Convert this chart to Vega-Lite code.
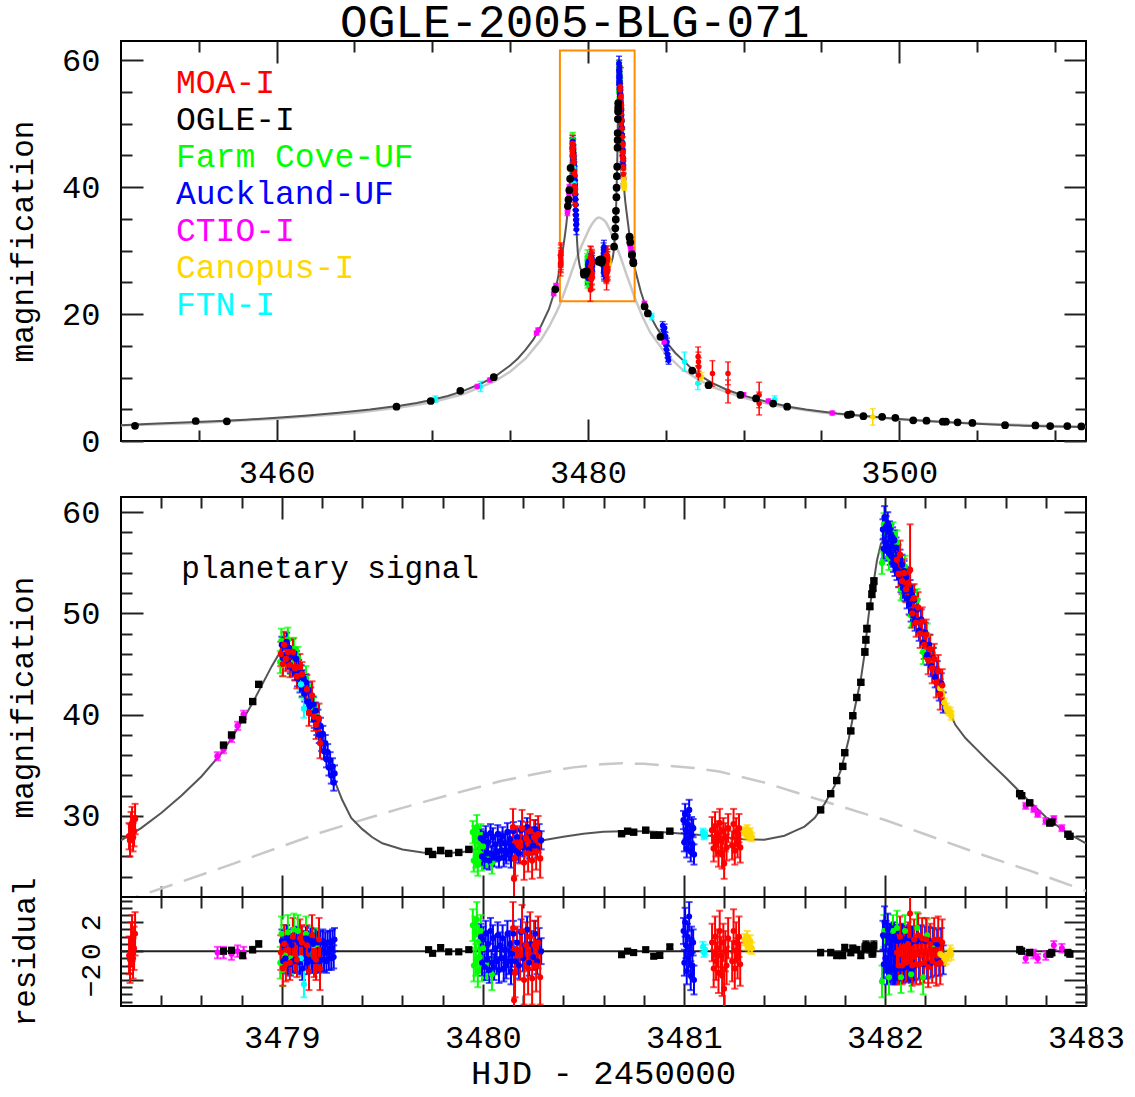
{
 "$schema": "https://vega.github.io/schema/vega-lite/v6.json",
 "padding": {"left": 6, "top": 0, "right": 10, "bottom": 0},
 "title": {"text": "OGLE-2005-BLG-071", "font": "Liberation Mono", "fontSize": 46, "fontWeight": "normal", "color": "black", "anchor": "middle", "dx": 9, "offset": -8},
 "config": {
  "font": "Liberation Mono",
  "view": {"stroke": "black", "strokeWidth": 2},
  "axis": {"domain": false, "grid": false, "labelFont": "Liberation Mono", "labelFontSize": 32, "labelColor": "black", "labelOverlap": false, "labelFlush": false, "labelBound": false, "tickColor": "#222222", "tickWidth": 2, "titleFont": "Liberation Mono", "titleFontSize": 31, "titleFontWeight": "normal", "titleColor": "black"}
 },
 "resolve": {"scale": {"color": "shared"}, "legend": {"color": "shared"}},
 "spacing": 56,
 "bounds": "flush",
 "datasets": {
  "model": [
   {"t":3450,"A":2.5},{"t":3452,"A":2.7},{"t":3454,"A":2.9},{"t":3456,"A":3.1},{"t":3458,"A":3.35},{"t":3460,"A":3.65},{"t":3462,"A":4.0},{"t":3464,"A":4.45},{"t":3466,"A":4.95},{"t":3468,"A":5.6},{"t":3469,"A":6.0},{"t":3470,"A":6.5},{"t":3471,"A":7.1},{"t":3472,"A":7.9},{"t":3473,"A":8.9},{"t":3474,"A":10.1},{"t":3475,"A":11.9},{"t":3475.5,"A":13.0},{"t":3476,"A":14.4},{"t":3476.5,"A":16.0},{"t":3477,"A":18.2},{"t":3477.5,"A":20.8},{"t":3477.9,"A":23.9},{"t":3478.0,"A":24.8},{"t":3478.1,"A":26.0},{"t":3478.2,"A":27.6},{"t":3478.3,"A":28.8},{"t":3478.4,"A":30.3},{"t":3478.5,"A":32.0},{"t":3478.6,"A":33.9},{"t":3478.7,"A":36.2},{"t":3478.76,"A":38.0},{"t":3478.8,"A":39.3},{"t":3478.85,"A":41.0},{"t":3478.9,"A":42.9},{"t":3478.95,"A":44.8},{"t":3478.98,"A":45.8},{"t":3479.0,"A":46.2},{"t":3479.02,"A":46.4},{"t":3479.05,"A":45.4},{"t":3479.1,"A":43.4},{"t":3479.15,"A":40.8},{"t":3479.18,"A":39.1},{"t":3479.22,"A":36.3},{"t":3479.26,"A":33.6},{"t":3479.3,"A":31.6},{"t":3479.345,"A":29.8},{"t":3479.4,"A":28.7},{"t":3479.45,"A":27.9},{"t":3479.5,"A":27.3},{"t":3479.6,"A":26.7},{"t":3479.7,"A":26.4},{"t":3479.8,"A":26.3},{"t":3479.9,"A":26.45},{"t":3480.0,"A":26.8},{"t":3480.1,"A":27.15},{"t":3480.2,"A":27.35},{"t":3480.3,"A":27.6},{"t":3480.4,"A":27.95},{"t":3480.5,"A":28.25},{"t":3480.6,"A":28.45},{"t":3480.7,"A":28.5},{"t":3480.8,"A":28.5},{"t":3480.9,"A":28.4},{"t":3481.0,"A":28.25},{"t":3481.1,"A":28.1},{"t":3481.2,"A":27.9},{"t":3481.3,"A":27.7},{"t":3481.4,"A":27.65},{"t":3481.5,"A":28.05},{"t":3481.55,"A":28.5},{"t":3481.6,"A":28.95},{"t":3481.65,"A":29.8},{"t":3481.7,"A":31.2},{"t":3481.75,"A":33.0},{"t":3481.78,"A":34.5},{"t":3481.8,"A":36.0},{"t":3481.82,"A":37.6},{"t":3481.84,"A":39.7},{"t":3481.86,"A":41.6},{"t":3481.88,"A":43.5},{"t":3481.9,"A":46.2},{"t":3481.91,"A":48.3},{"t":3481.92,"A":50.0},{"t":3481.94,"A":52.6},{"t":3481.96,"A":55.2},{"t":3481.98,"A":56.9},{"t":3482.0,"A":57.5},{"t":3482.02,"A":57.3},{"t":3482.05,"A":56.0},{"t":3482.1,"A":53.2},{"t":3482.15,"A":50.3},{"t":3482.2,"A":47.4},{"t":3482.25,"A":44.4},{"t":3482.3,"A":41.2},{"t":3482.35,"A":39.0},{"t":3482.4,"A":37.7},{"t":3482.46,"A":36.5},{"t":3482.5,"A":35.7},{"t":3482.6,"A":33.8},{"t":3482.67,"A":32.4},{"t":3482.7,"A":31.8},{"t":3482.8,"A":29.9},{"t":3482.9,"A":28.4},{"t":3483.0,"A":27.3},{"t":3483.2,"A":25.4},{"t":3483.4,"A":23.5},{"t":3483.6,"A":22.0},{"t":3483.8,"A":20.8},{"t":3484.0,"A":19.7},{"t":3484.4,"A":17.9},{"t":3484.8,"A":16.4},{"t":3485.2,"A":15.1},{"t":3485.6,"A":13.9},{"t":3486.2,"A":12.5},{"t":3487.0,"A":10.6},{"t":3488.0,"A":9.1},{"t":3489.0,"A":8.0},{"t":3490.0,"A":7.15},{"t":3491.0,"A":6.5},{"t":3492.0,"A":5.9},{"t":3493.0,"A":5.35},{"t":3494.0,"A":4.95},{"t":3496.0,"A":4.35},{"t":3498.0,"A":3.9},{"t":3500.0,"A":3.45},{"t":3502.0,"A":3.1},{"t":3504.0,"A":2.85},{"t":3506.0,"A":2.6},{"t":3508.0,"A":2.42},{"t":3510.0,"A":2.3},{"t":3512.0,"A":2.2}
  ],
  "single": [
   {"t":3450,"A":2.45},{"t":3455,"A":2.85},{"t":3460,"A":3.5},{"t":3465,"A":4.4},{"t":3468,"A":5.3},{"t":3470,"A":6.1},{"t":3472,"A":7.4},{"t":3474,"A":9.4},{"t":3475,"A":10.9},{"t":3476,"A":13.0},{"t":3477,"A":16.0},{"t":3477.5,"A":18.0},{"t":3478,"A":20.4},{"t":3478.2,"A":21.5},{"t":3478.5,"A":23.5},{"t":3478.76,"A":25.3},{"t":3479,"A":27.0},{"t":3479.2,"A":28.4},{"t":3479.43,"A":29.8},{"t":3479.6,"A":30.8},{"t":3479.8,"A":31.9},{"t":3480.09,"A":33.45},{"t":3480.3,"A":34.3},{"t":3480.45,"A":34.8},{"t":3480.59,"A":35.1},{"t":3480.69,"A":35.2},{"t":3480.8,"A":35.15},{"t":3480.9,"A":35.0},{"t":3481.05,"A":34.75},{"t":3481.175,"A":34.4},{"t":3481.4,"A":33.3},{"t":3481.69,"A":31.5},{"t":3482.0,"A":29.6},{"t":3482.2,"A":28.2},{"t":3482.45,"A":26.4},{"t":3482.72,"A":24.6},{"t":3483.0,"A":22.6},{"t":3483.5,"A":19.6},{"t":3484,"A":17.1},{"t":3485,"A":13.7},{"t":3486,"A":11.4},{"t":3487,"A":9.8},{"t":3488,"A":8.5},{"t":3490,"A":6.8},{"t":3492,"A":5.6},{"t":3495,"A":4.5},{"t":3500,"A":3.4},{"t":3505,"A":2.75},{"t":3512,"A":2.2}
  ],
  "obs": [
   {"src":"Farm Cove-UF","t":3478.992,"A":45.2,"err":1.1,"res":-0.8},
   {"src":"Farm Cove-UF","t":3478.998,"A":47.3,"err":1.2,"res":1.2},
   {"src":"Farm Cove-UF","t":3479.004,"A":44.9,"err":1.1,"res":-1.3},
   {"src":"Farm Cove-UF","t":3479.010,"A":47.0,"err":1.1,"res":0.7},
   {"src":"Farm Cove-UF","t":3479.016,"A":46.0,"err":1.1,"res":-0.3},
   {"src":"Farm Cove-UF","t":3479.030,"A":47.4,"err":1.2,"res":1.3},
   {"src":"Farm Cove-UF","t":3479.045,"A":45.1,"err":1.1,"res":-0.5},
   {"src":"Farm Cove-UF","t":3479.060,"A":46.5,"err":1.1,"res":1.5},
   {"src":"Farm Cove-UF","t":3479.080,"A":45.6,"err":1.1,"res":1.4},
   {"src":"Farm Cove-UF","t":3479.100,"A":42.8,"err":1.1,"res":-0.6},
   {"src":"Farm Cove-UF","t":3479.120,"A":43.6,"err":1.2,"res":1.2},
   {"src":"Farm Cove-UF","t":3479.140,"A":41.9,"err":1.1,"res":0.6},
   {"src":"Farm Cove-UF","t":3479.160,"A":40.6,"err":1.1,"res":0.4},
   {"src":"Farm Cove-UF","t":3479.175,"A":39.9,"err":1.1,"res":0.5},
   {"src":"Farm Cove-UF","t":3479.950,"A":28.4,"err":1.1,"res":1.8},
   {"src":"Farm Cove-UF","t":3479.955,"A":25.6,"err":1.1,"res":-1.0},
   {"src":"Farm Cove-UF","t":3479.960,"A":27.9,"err":1.1,"res":1.3},
   {"src":"Farm Cove-UF","t":3479.965,"A":26.0,"err":1.1,"res":-0.6},
   {"src":"Farm Cove-UF","t":3479.970,"A":28.9,"err":1.2,"res":2.2},
   {"src":"Farm Cove-UF","t":3479.975,"A":25.2,"err":1.1,"res":-1.4},
   {"src":"Farm Cove-UF","t":3479.980,"A":27.4,"err":1.1,"res":0.7},
   {"src":"Farm Cove-UF","t":3479.985,"A":26.3,"err":1.1,"res":-0.4},
   {"src":"Farm Cove-UF","t":3479.990,"A":28.1,"err":1.1,"res":1.4},
   {"src":"Farm Cove-UF","t":3479.995,"A":25.8,"err":1.2,"res":-0.9},
   {"src":"Farm Cove-UF","t":3480.000,"A":27.0,"err":1.1,"res":0.2},
   {"src":"Farm Cove-UF","t":3480.020,"A":26.1,"err":1.2,"res":-0.8},
   {"src":"Farm Cove-UF","t":3480.045,"A":25.4,"err":1.1,"res":-1.6},
   {"src":"Farm Cove-UF","t":3481.985,"A":55.0,"err":1.1,"res":-2.1},
   {"src":"Farm Cove-UF","t":3481.995,"A":58.8,"err":1.1,"res":1.4},
   {"src":"Farm Cove-UF","t":3482.020,"A":55.5,"err":1.2,"res":-1.8},
   {"src":"Farm Cove-UF","t":3482.040,"A":57.9,"err":1.1,"res":1.4},
   {"src":"Farm Cove-UF","t":3482.060,"A":57.0,"err":1.2,"res":1.6},
   {"src":"Farm Cove-UF","t":3482.080,"A":52.4,"err":1.1,"res":-1.8},
   {"src":"Farm Cove-UF","t":3482.100,"A":54.6,"err":1.1,"res":1.4},
   {"src":"Farm Cove-UF","t":3482.130,"A":49.8,"err":1.2,"res":-1.6},
   {"src":"Farm Cove-UF","t":3482.160,"A":51.3,"err":1.1,"res":1.6},
   {"src":"Farm Cove-UF","t":3482.190,"A":46.2,"err":1.2,"res":-1.8},
   {"src":"Farm Cove-UF","t":3482.210,"A":47.9,"err":1.1,"res":1.1},
   {"src":"Farm Cove-UF","t":3482.240,"A":45.5,"err":1.1,"res":0.5},
   {"src":"Auckland-UF","t":3484.80,"A":18.2,"err":0.6,"res":0},
   {"src":"Auckland-UF","t":3484.85,"A":17.4,"err":0.6,"res":0},
   {"src":"Auckland-UF","t":3484.90,"A":16.7,"err":0.6,"res":0},
   {"src":"Auckland-UF","t":3484.93,"A":17.8,"err":0.6,"res":0},
   {"src":"Auckland-UF","t":3484.96,"A":15.9,"err":0.6,"res":0},
   {"src":"Auckland-UF","t":3484.99,"A":16.5,"err":0.6,"res":0},
   {"src":"Auckland-UF","t":3485.02,"A":15.1,"err":0.6,"res":0},
   {"src":"Auckland-UF","t":3485.05,"A":14.4,"err":0.6,"res":0},
   {"src":"Auckland-UF","t":3485.08,"A":15.6,"err":0.6,"res":0},
   {"src":"Auckland-UF","t":3485.11,"A":13.7,"err":0.6,"res":0},
   {"src":"Auckland-UF","t":3485.14,"A":13.1,"err":0.6,"res":0},
   {"src":"Auckland-UF","t":3485.18,"A":12.7,"err":0.6,"res":0},
   {"src":"Auckland-UF","t":3479.000,"A":46.9,"err":0.8,"res":0.7},
   {"src":"Auckland-UF","t":3479.006,"A":45.6,"err":0.8,"res":-0.7},
   {"src":"Auckland-UF","t":3479.012,"A":46.8,"err":0.9,"res":0.4},
   {"src":"Auckland-UF","t":3479.018,"A":45.9,"err":0.8,"res":-0.5},
   {"src":"Auckland-UF","t":3479.024,"A":47.2,"err":0.9,"res":0.9},
   {"src":"Auckland-UF","t":3479.030,"A":45.3,"err":0.8,"res":-0.8},
   {"src":"Auckland-UF","t":3479.036,"A":46.6,"err":0.8,"res":0.7},
   {"src":"Auckland-UF","t":3479.042,"A":44.9,"err":0.8,"res":-0.9},
   {"src":"Auckland-UF","t":3479.048,"A":45.9,"err":0.8,"res":0.4},
   {"src":"Auckland-UF","t":3479.054,"A":44.6,"err":0.8,"res":-0.7},
   {"src":"Auckland-UF","t":3479.060,"A":45.8,"err":0.8,"res":0.8},
   {"src":"Auckland-UF","t":3479.066,"A":44.2,"err":0.8,"res":-0.6},
   {"src":"Auckland-UF","t":3479.072,"A":45.5,"err":0.8,"res":0.9},
   {"src":"Auckland-UF","t":3479.078,"A":43.6,"err":0.8,"res":-0.7},
   {"src":"Auckland-UF","t":3479.084,"A":44.6,"err":0.8,"res":0.6},
   {"src":"Auckland-UF","t":3479.090,"A":43.0,"err":0.8,"res":-0.8},
   {"src":"Auckland-UF","t":3479.096,"A":44.1,"err":0.8,"res":0.5},
   {"src":"Auckland-UF","t":3479.102,"A":42.6,"err":0.8,"res":-1.2},
   {"src":"Auckland-UF","t":3479.108,"A":43.6,"err":0.8,"res":0.6},
   {"src":"Auckland-UF","t":3479.114,"A":42.1,"err":0.8,"res":-0.5},
   {"src":"Auckland-UF","t":3479.120,"A":43.2,"err":0.8,"res":0.9},
   {"src":"Auckland-UF","t":3479.126,"A":41.3,"err":0.8,"res":-0.8},
   {"src":"Auckland-UF","t":3479.132,"A":42.4,"err":0.8,"res":0.6},
   {"src":"Auckland-UF","t":3479.138,"A":40.8,"err":0.8,"res":-0.6},
   {"src":"Auckland-UF","t":3479.144,"A":41.9,"err":0.8,"res":0.8},
   {"src":"Auckland-UF","t":3479.150,"A":40.1,"err":0.8,"res":-0.7},
   {"src":"Auckland-UF","t":3479.156,"A":41.0,"err":0.8,"res":0.5},
   {"src":"Auckland-UF","t":3479.162,"A":39.5,"err":0.8,"res":-0.7},
   {"src":"Auckland-UF","t":3479.168,"A":40.4,"err":0.8,"res":0.7},
   {"src":"Auckland-UF","t":3479.174,"A":38.8,"err":0.8,"res":-0.6},
   {"src":"Auckland-UF","t":3479.180,"A":39.7,"err":0.8,"res":0.6},
   {"src":"Auckland-UF","t":3479.186,"A":38.0,"err":0.8,"res":-0.7},
   {"src":"Auckland-UF","t":3479.192,"A":38.9,"err":0.8,"res":0.6},
   {"src":"Auckland-UF","t":3479.198,"A":37.2,"err":0.8,"res":-0.6},
   {"src":"Auckland-UF","t":3479.204,"A":38.1,"err":0.8,"res":0.7},
   {"src":"Auckland-UF","t":3479.210,"A":36.4,"err":0.8,"res":-0.6},
   {"src":"Auckland-UF","t":3479.216,"A":37.2,"err":0.8,"res":0.5},
   {"src":"Auckland-UF","t":3479.222,"A":35.6,"err":0.8,"res":-0.7},
   {"src":"Auckland-UF","t":3479.228,"A":36.3,"err":0.8,"res":0.6},
   {"src":"Auckland-UF","t":3479.234,"A":34.8,"err":0.8,"res":-0.5},
   {"src":"Auckland-UF","t":3479.240,"A":35.5,"err":0.8,"res":0.6},
   {"src":"Auckland-UF","t":3479.246,"A":34.0,"err":0.8,"res":-0.5},
   {"src":"Auckland-UF","t":3479.252,"A":34.9,"err":0.8,"res":0.7},
   {"src":"Auckland-UF","t":3479.258,"A":33.3,"err":0.8,"res":-0.4},
   {"src":"Auckland-UF","t":3479.262,"A":34.2,"err":0.8,"res":0.8},
   {"src":"Auckland-UF","t":3479.990,"A":27.8,"err":0.9,"res":1.0},
   {"src":"Auckland-UF","t":3479.996,"A":26.0,"err":0.9,"res":-0.8},
   {"src":"Auckland-UF","t":3480.002,"A":27.6,"err":0.9,"res":0.8},
   {"src":"Auckland-UF","t":3480.008,"A":25.7,"err":0.9,"res":-1.1},
   {"src":"Auckland-UF","t":3480.014,"A":28.1,"err":0.9,"res":1.2},
   {"src":"Auckland-UF","t":3480.020,"A":26.3,"err":0.9,"res":-0.6},
   {"src":"Auckland-UF","t":3480.026,"A":27.4,"err":0.9,"res":0.5},
   {"src":"Auckland-UF","t":3480.032,"A":25.6,"err":0.9,"res":-1.3},
   {"src":"Auckland-UF","t":3480.038,"A":28.3,"err":0.9,"res":1.4},
   {"src":"Auckland-UF","t":3480.044,"A":26.2,"err":0.9,"res":-0.8},
   {"src":"Auckland-UF","t":3480.050,"A":27.9,"err":0.9,"res":0.9},
   {"src":"Auckland-UF","t":3480.056,"A":25.9,"err":0.9,"res":-1.1},
   {"src":"Auckland-UF","t":3480.062,"A":27.2,"err":0.9,"res":0.2},
   {"src":"Auckland-UF","t":3480.068,"A":26.4,"err":0.9,"res":-0.7},
   {"src":"Auckland-UF","t":3480.074,"A":28.2,"err":0.9,"res":1.1},
   {"src":"Auckland-UF","t":3480.080,"A":25.8,"err":0.9,"res":-1.3},
   {"src":"Auckland-UF","t":3480.086,"A":27.5,"err":0.9,"res":0.4},
   {"src":"Auckland-UF","t":3480.092,"A":26.6,"err":0.9,"res":-0.5},
   {"src":"Auckland-UF","t":3480.098,"A":28.0,"err":0.9,"res":0.9},
   {"src":"Auckland-UF","t":3480.104,"A":25.9,"err":0.9,"res":-1.2},
   {"src":"Auckland-UF","t":3480.110,"A":27.3,"err":0.9,"res":0.1},
   {"src":"Auckland-UF","t":3480.116,"A":26.2,"err":0.9,"res":-1.0},
   {"src":"Auckland-UF","t":3480.122,"A":28.4,"err":0.9,"res":1.2},
   {"src":"Auckland-UF","t":3480.128,"A":26.5,"err":0.9,"res":-0.7},
   {"src":"Auckland-UF","t":3480.134,"A":27.7,"err":0.9,"res":0.5},
   {"src":"Auckland-UF","t":3480.140,"A":25.8,"err":0.9,"res":-1.4},
   {"src":"Auckland-UF","t":3480.146,"A":27.0,"err":0.9,"res":-0.2},
   {"src":"Auckland-UF","t":3480.152,"A":28.5,"err":0.9,"res":1.2},
   {"src":"Auckland-UF","t":3480.160,"A":26.6,"err":0.9,"res":-0.7},
   {"src":"Auckland-UF","t":3480.170,"A":27.9,"err":0.9,"res":0.6},
   {"src":"Auckland-UF","t":3480.180,"A":26.3,"err":0.9,"res":-1.0},
   {"src":"Auckland-UF","t":3480.190,"A":28.6,"err":0.9,"res":1.3},
   {"src":"Auckland-UF","t":3480.200,"A":26.9,"err":0.9,"res":-0.5},
   {"src":"Auckland-UF","t":3480.210,"A":27.8,"err":0.9,"res":0.4},
   {"src":"Auckland-UF","t":3480.220,"A":28.9,"err":0.9,"res":1.5},
   {"src":"Auckland-UF","t":3480.230,"A":26.7,"err":0.9,"res":-0.8},
   {"src":"Auckland-UF","t":3480.240,"A":28.0,"err":0.9,"res":0.5},
   {"src":"Auckland-UF","t":3480.250,"A":27.1,"err":0.9,"res":-0.4},
   {"src":"Auckland-UF","t":3480.260,"A":28.7,"err":0.9,"res":1.2},
   {"src":"Auckland-UF","t":3480.270,"A":26.8,"err":0.9,"res":-0.7},
   {"src":"Auckland-UF","t":3480.280,"A":28.3,"err":0.9,"res":0.7},
   {"src":"Auckland-UF","t":3480.290,"A":27.6,"err":0.9,"res":0.0},
   {"src":"Auckland-UF","t":3480.998,"A":29.6,"err":0.9,"res":1.4},
   {"src":"Auckland-UF","t":3481.002,"A":27.4,"err":0.9,"res":-0.8},
   {"src":"Auckland-UF","t":3481.006,"A":30.2,"err":1.0,"res":2.0},
   {"src":"Auckland-UF","t":3481.010,"A":28.6,"err":0.9,"res":0.4},
   {"src":"Auckland-UF","t":3481.014,"A":26.8,"err":0.9,"res":-1.4},
   {"src":"Auckland-UF","t":3481.018,"A":29.2,"err":0.9,"res":1.0},
   {"src":"Auckland-UF","t":3481.022,"A":27.7,"err":0.9,"res":-0.5},
   {"src":"Auckland-UF","t":3481.026,"A":30.6,"err":1.0,"res":2.4},
   {"src":"Auckland-UF","t":3481.030,"A":28.0,"err":0.9,"res":-0.2},
   {"src":"Auckland-UF","t":3481.034,"A":26.5,"err":1.0,"res":-1.7},
   {"src":"Auckland-UF","t":3481.038,"A":29.0,"err":0.9,"res":0.8},
   {"src":"Auckland-UF","t":3481.042,"A":27.2,"err":0.9,"res":-1.0},
   {"src":"Auckland-UF","t":3481.046,"A":28.8,"err":0.9,"res":0.6},
   {"src":"Auckland-UF","t":3481.050,"A":26.2,"err":1.0,"res":-2.0},
   {"src":"Auckland-UF","t":3481.990,"A":58.3,"err":1.0,"res":1.1},
   {"src":"Auckland-UF","t":3481.994,"A":56.4,"err":1.0,"res":-0.9},
   {"src":"Auckland-UF","t":3481.998,"A":59.5,"err":1.1,"res":2.0},
   {"src":"Auckland-UF","t":3482.002,"A":57.0,"err":1.0,"res":-0.5},
   {"src":"Auckland-UF","t":3482.006,"A":58.6,"err":1.0,"res":1.1},
   {"src":"Auckland-UF","t":3482.010,"A":56.2,"err":1.0,"res":-1.3},
   {"src":"Auckland-UF","t":3482.014,"A":58.9,"err":1.1,"res":1.5},
   {"src":"Auckland-UF","t":3482.018,"A":56.6,"err":1.0,"res":-0.8},
   {"src":"Auckland-UF","t":3482.022,"A":58.1,"err":1.0,"res":0.9},
   {"src":"Auckland-UF","t":3482.026,"A":55.8,"err":1.0,"res":-1.2},
   {"src":"Auckland-UF","t":3482.030,"A":57.8,"err":1.0,"res":0.9},
   {"src":"Auckland-UF","t":3482.034,"A":55.6,"err":1.0,"res":-1.1},
   {"src":"Auckland-UF","t":3482.038,"A":57.5,"err":1.0,"res":0.8},
   {"src":"Auckland-UF","t":3482.042,"A":55.1,"err":1.0,"res":-1.3},
   {"src":"Auckland-UF","t":3482.046,"A":57.2,"err":1.0,"res":1.0},
   {"src":"Auckland-UF","t":3482.050,"A":54.7,"err":1.0,"res":-1.3},
   {"src":"Auckland-UF","t":3482.055,"A":56.5,"err":1.0,"res":0.8},
   {"src":"Auckland-UF","t":3482.060,"A":54.3,"err":1.0,"res":-1.1},
   {"src":"Auckland-UF","t":3482.065,"A":55.8,"err":1.0,"res":0.7},
   {"src":"Auckland-UF","t":3482.070,"A":53.6,"err":1.0,"res":-1.2},
   {"src":"Auckland-UF","t":3482.075,"A":55.3,"err":1.0,"res":0.8},
   {"src":"Auckland-UF","t":3482.080,"A":53.1,"err":1.0,"res":-1.1},
   {"src":"Auckland-UF","t":3482.085,"A":54.8,"err":1.0,"res":0.9},
   {"src":"Auckland-UF","t":3482.090,"A":52.5,"err":1.0,"res":-1.2},
   {"src":"Auckland-UF","t":3482.095,"A":54.2,"err":1.0,"res":0.8},
   {"src":"Auckland-UF","t":3482.100,"A":52.2,"err":1.0,"res":-1.0},
   {"src":"Auckland-UF","t":3482.105,"A":53.6,"err":1.0,"res":0.7},
   {"src":"Auckland-UF","t":3482.110,"A":51.5,"err":1.0,"res":-1.1},
   {"src":"Auckland-UF","t":3482.115,"A":53.0,"err":1.0,"res":0.7},
   {"src":"Auckland-UF","t":3482.120,"A":50.9,"err":1.0,"res":-1.1},
   {"src":"Auckland-UF","t":3482.125,"A":52.3,"err":1.0,"res":0.6},
   {"src":"Auckland-UF","t":3482.130,"A":50.2,"err":1.0,"res":-1.2},
   {"src":"Auckland-UF","t":3482.135,"A":51.8,"err":1.0,"res":0.7},
   {"src":"Auckland-UF","t":3482.140,"A":49.8,"err":1.0,"res":-1.1},
   {"src":"Auckland-UF","t":3482.145,"A":51.3,"err":1.0,"res":0.7},
   {"src":"Auckland-UF","t":3482.150,"A":49.3,"err":1.0,"res":-1.0},
   {"src":"Auckland-UF","t":3482.160,"A":50.4,"err":1.0,"res":0.7},
   {"src":"Auckland-UF","t":3482.170,"A":48.3,"err":1.0,"res":-0.9},
   {"src":"Auckland-UF","t":3482.180,"A":49.4,"err":1.0,"res":0.8},
   {"src":"Auckland-UF","t":3482.190,"A":47.1,"err":1.0,"res":-0.9},
   {"src":"Auckland-UF","t":3482.200,"A":48.1,"err":1.0,"res":0.7},
   {"src":"Auckland-UF","t":3482.210,"A":45.9,"err":1.0,"res":-0.9},
   {"src":"Auckland-UF","t":3482.220,"A":46.9,"err":1.0,"res":0.7},
   {"src":"Auckland-UF","t":3482.230,"A":44.8,"err":1.0,"res":-0.8},
   {"src":"Auckland-UF","t":3482.240,"A":45.6,"err":1.0,"res":0.6},
   {"src":"Auckland-UF","t":3482.250,"A":43.7,"err":1.0,"res":-0.7},
   {"src":"Auckland-UF","t":3482.260,"A":44.3,"err":1.0,"res":0.5},
   {"src":"Auckland-UF","t":3482.270,"A":42.4,"err":1.0,"res":-0.7},
   {"src":"Auckland-UF","t":3482.280,"A":43.1,"err":1.0,"res":0.6},
   {"src":"Auckland-UF","t":3482.290,"A":41.2,"err":1.0,"res":-0.6},
   {"src":"FTN-I","t":3470.2,"A":6.6,"err":0.5,"res":0},
   {"src":"FTN-I","t":3473.1,"A":8.6,"err":0.8,"res":0},
   {"src":"FTN-I","t":3484.1,"A":19.6,"err":0.5,"res":0},
   {"src":"FTN-I","t":3486.2,"A":12.5,"err":1.5,"res":0},
   {"src":"FTN-I","t":3487.06,"A":9.1,"err":1.0,"res":0},
   {"src":"FTN-I","t":3492.0,"A":6.5,"err":0.6,"res":0},
   {"src":"FTN-I","t":3479.095,"A":43.0,"err":0.6,"res":-0.5},
   {"src":"FTN-I","t":3479.110,"A":40.6,"err":0.9,"res":-2.3},
   {"src":"FTN-I","t":3481.095,"A":28.4,"err":0.35,"res":0.3},
   {"src":"FTN-I","t":3481.100,"A":28.0,"err":0.3,"res":-0.1},
   {"src":"FTN-I","t":3481.105,"A":28.2,"err":0.35,"res":0.1},
   {"src":"CTIO-I","t":3472.9,"A":8.6,"err":0.3,"res":0},
   {"src":"CTIO-I","t":3473.7,"A":9.6,"err":0.3,"res":0},
   {"src":"CTIO-I","t":3476.7,"A":17.0,"err":0.3,"res":0},
   {"src":"CTIO-I","t":3476.8,"A":17.5,"err":0.3,"res":0},
   {"src":"CTIO-I","t":3477.8,"A":23.2,"err":0.3,"res":0},
   {"src":"CTIO-I","t":3477.95,"A":24.5,"err":0.3,"res":0},
   {"src":"CTIO-I","t":3483.63,"A":21.7,"err":0.3,"res":0},
   {"src":"CTIO-I","t":3484.9,"A":15.6,"err":0.3,"res":0},
   {"src":"CTIO-I","t":3490.0,"A":7.3,"err":0.3,"res":0},
   {"src":"CTIO-I","t":3491.6,"A":6.3,"err":0.3,"res":0},
   {"src":"CTIO-I","t":3495.7,"A":4.4,"err":0.3,"res":0},
   {"src":"CTIO-I","t":3478.68,"A":35.9,"err":0.4,"res":-0.1},
   {"src":"CTIO-I","t":3478.71,"A":36.6,"err":0.4,"res":-0.1},
   {"src":"CTIO-I","t":3478.75,"A":37.7,"err":0.4,"res":-0.2},
   {"src":"CTIO-I","t":3478.78,"A":38.9,"err":0.4,"res":0.0},
   {"src":"CTIO-I","t":3478.81,"A":40.0,"err":0.4,"res":-0.1},
   {"src":"CTIO-I","t":3482.70,"A":31.0,"err":0.3,"res":-0.5},
   {"src":"CTIO-I","t":3482.74,"A":30.7,"err":0.3,"res":-0.2},
   {"src":"CTIO-I","t":3482.76,"A":30.2,"err":0.3,"res":-0.5},
   {"src":"CTIO-I","t":3482.80,"A":29.5,"err":0.3,"res":-0.3},
   {"src":"CTIO-I","t":3482.84,"A":29.7,"err":0.3,"res":0.4},
   {"src":"CTIO-I","t":3482.88,"A":28.8,"err":0.3,"res":0.2},
   {"src":"Canopus-I","t":3487.3,"A":10.1,"err":0.7,"res":0},
   {"src":"Canopus-I","t":3498.3,"A":3.8,"err":1.3,"res":0},
   {"src":"Canopus-I","t":3481.300,"A":28.5,"err":0.4,"res":0.8},
   {"src":"Canopus-I","t":3481.308,"A":28.2,"err":0.4,"res":0.5},
   {"src":"Canopus-I","t":3481.315,"A":28.7,"err":0.4,"res":1.0},
   {"src":"Canopus-I","t":3481.322,"A":28.0,"err":0.4,"res":0.3},
   {"src":"Canopus-I","t":3481.330,"A":28.4,"err":0.4,"res":0.7},
   {"src":"Canopus-I","t":3481.338,"A":27.9,"err":0.4,"res":0.2},
   {"src":"Canopus-I","t":3482.275,"A":42.6,"err":0.4,"res":-0.2},
   {"src":"Canopus-I","t":3482.285,"A":42.0,"err":0.4,"res":-0.3},
   {"src":"Canopus-I","t":3482.295,"A":41.2,"err":0.4,"res":-0.6},
   {"src":"Canopus-I","t":3482.305,"A":40.7,"err":0.4,"res":-0.5},
   {"src":"Canopus-I","t":3482.315,"A":40.4,"err":0.4,"res":-0.3},
   {"src":"Canopus-I","t":3482.325,"A":40.3,"err":0.4,"res":0.0},
   {"src":"Canopus-I","t":3482.330,"A":39.9,"err":0.4,"res":-0.2},
   {"src":"MOA-I","t":3487.08,"A":13.3,"err":1.5,"res":0},
   {"src":"MOA-I","t":3487.10,"A":12.5,"err":1.5,"res":0},
   {"src":"MOA-I","t":3487.12,"A":11.7,"err":1.4,"res":0},
   {"src":"MOA-I","t":3487.10,"A":10.4,"err":1.4,"res":0},
   {"src":"MOA-I","t":3488.0,"A":10.65,"err":2.0,"res":0},
   {"src":"MOA-I","t":3489.0,"A":10.65,"err":1.8,"res":0},
   {"src":"MOA-I","t":3489.0,"A":7.8,"err":1.8,"res":0},
   {"src":"MOA-I","t":3491.0,"A":7.25,"err":2.0,"res":0},
   {"src":"MOA-I","t":3491.0,"A":5.9,"err":1.8,"res":0},
   {"src":"MOA-I","t":3478.240,"A":28.0,"err":1.3,"res":-0.3},
   {"src":"MOA-I","t":3478.250,"A":28.9,"err":1.5,"res":0.5},
   {"src":"MOA-I","t":3478.255,"A":29.3,"err":1.6,"res":0.9},
   {"src":"MOA-I","t":3478.260,"A":27.9,"err":1.4,"res":-0.5},
   {"src":"MOA-I","t":3478.265,"A":28.5,"err":1.5,"res":0.2},
   {"src":"MOA-I","t":3478.270,"A":29.7,"err":1.5,"res":1.2},
   {"src":"MOA-I","t":3478.245,"A":27.6,"err":1.6,"res":-0.6},
   {"src":"MOA-I","t":3478.995,"A":46.0,"err":1.2,"res":-0.1},
   {"src":"MOA-I","t":3479.005,"A":45.0,"err":1.2,"res":-1.2},
   {"src":"MOA-I","t":3479.012,"A":46.9,"err":1.3,"res":0.5},
   {"src":"MOA-I","t":3479.020,"A":45.5,"err":1.2,"res":-0.9},
   {"src":"MOA-I","t":3479.030,"A":46.2,"err":1.2,"res":0.1},
   {"src":"MOA-I","t":3479.040,"A":44.9,"err":1.2,"res":-0.8},
   {"src":"MOA-I","t":3479.055,"A":46.2,"err":1.3,"res":1.0},
   {"src":"MOA-I","t":3479.065,"A":44.6,"err":1.2,"res":-0.2},
   {"src":"MOA-I","t":3479.075,"A":43.8,"err":1.2,"res":-0.6},
   {"src":"MOA-I","t":3479.090,"A":44.7,"err":1.3,"res":0.9},
   {"src":"MOA-I","t":3479.100,"A":44.0,"err":1.2,"res":0.6},
   {"src":"MOA-I","t":3479.125,"A":42.5,"err":1.4,"res":0.4},
   {"src":"MOA-I","t":3479.135,"A":40.2,"err":1.3,"res":-1.4},
   {"src":"MOA-I","t":3479.150,"A":41.9,"err":1.4,"res":1.1},
   {"src":"MOA-I","t":3479.160,"A":39.8,"err":1.4,"res":-0.4},
   {"src":"MOA-I","t":3479.170,"A":39.0,"err":1.4,"res":-0.6},
   {"src":"MOA-I","t":3479.185,"A":39.6,"err":1.5,"res":0.8},
   {"src":"MOA-I","t":3479.190,"A":37.2,"err":1.5,"res":-1.2},
   {"src":"MOA-I","t":3480.150,"A":28.9,"err":1.8,"res":1.6},
   {"src":"MOA-I","t":3480.155,"A":23.8,"err":1.8,"res":-3.4},
   {"src":"MOA-I","t":3480.160,"A":25.8,"err":1.7,"res":-1.5},
   {"src":"MOA-I","t":3480.170,"A":27.4,"err":1.6,"res":0.1},
   {"src":"MOA-I","t":3480.185,"A":27.0,"err":1.7,"res":-0.3},
   {"src":"MOA-I","t":3480.195,"A":28.8,"err":1.8,"res":1.4},
   {"src":"MOA-I","t":3480.205,"A":25.4,"err":1.7,"res":-2.0},
   {"src":"MOA-I","t":3480.215,"A":27.8,"err":1.6,"res":0.4},
   {"src":"MOA-I","t":3480.225,"A":26.3,"err":1.8,"res":-1.2},
   {"src":"MOA-I","t":3480.235,"A":28.5,"err":1.7,"res":1.0},
   {"src":"MOA-I","t":3480.245,"A":25.6,"err":1.8,"res":-1.9},
   {"src":"MOA-I","t":3480.255,"A":27.9,"err":1.7,"res":0.4},
   {"src":"MOA-I","t":3480.265,"A":26.5,"err":1.8,"res":-1.0},
   {"src":"MOA-I","t":3480.275,"A":28.2,"err":1.8,"res":0.6},
   {"src":"MOA-I","t":3480.285,"A":25.8,"err":1.9,"res":-1.8},
   {"src":"MOA-I","t":3481.140,"A":28.6,"err":1.3,"res":0.6},
   {"src":"MOA-I","t":3481.148,"A":26.8,"err":1.3,"res":-1.2},
   {"src":"MOA-I","t":3481.155,"A":29.0,"err":1.4,"res":1.0},
   {"src":"MOA-I","t":3481.160,"A":27.3,"err":1.3,"res":-0.7},
   {"src":"MOA-I","t":3481.167,"A":28.2,"err":1.3,"res":0.2},
   {"src":"MOA-I","t":3481.172,"A":26.4,"err":1.4,"res":-1.5},
   {"src":"MOA-I","t":3481.178,"A":29.3,"err":1.4,"res":1.4},
   {"src":"MOA-I","t":3481.184,"A":27.6,"err":1.3,"res":-0.3},
   {"src":"MOA-I","t":3481.190,"A":26.2,"err":1.4,"res":-1.7},
   {"src":"MOA-I","t":3481.196,"A":28.5,"err":1.3,"res":0.6},
   {"src":"MOA-I","t":3481.200,"A":25.3,"err":1.5,"res":-2.6},
   {"src":"MOA-I","t":3481.206,"A":27.9,"err":1.4,"res":0.0},
   {"src":"MOA-I","t":3481.212,"A":26.9,"err":1.3,"res":-1.0},
   {"src":"MOA-I","t":3481.220,"A":28.8,"err":1.4,"res":0.9},
   {"src":"MOA-I","t":3481.240,"A":27.1,"err":1.4,"res":-0.7},
   {"src":"MOA-I","t":3481.247,"A":29.2,"err":1.5,"res":1.4},
   {"src":"MOA-I","t":3481.253,"A":26.6,"err":1.4,"res":-1.2},
   {"src":"MOA-I","t":3481.260,"A":28.4,"err":1.4,"res":0.6},
   {"src":"MOA-I","t":3481.267,"A":27.3,"err":1.4,"res":-0.5},
   {"src":"MOA-I","t":3481.274,"A":28.8,"err":1.4,"res":1.0},
   {"src":"MOA-I","t":3481.280,"A":26.9,"err":1.5,"res":-0.9},
   {"src":"MOA-I","t":3482.060,"A":55.3,"err":1.3,"res":-0.1},
   {"src":"MOA-I","t":3482.068,"A":53.9,"err":1.3,"res":-1.0},
   {"src":"MOA-I","t":3482.075,"A":55.8,"err":1.4,"res":1.0},
   {"src":"MOA-I","t":3482.085,"A":53.2,"err":1.3,"res":-1.0},
   {"src":"MOA-I","t":3482.095,"A":54.0,"err":1.4,"res":0.3},
   {"src":"MOA-I","t":3482.105,"A":52.4,"err":1.3,"res":-0.8},
   {"src":"MOA-I","t":3482.115,"A":53.0,"err":1.5,"res":0.5},
   {"src":"MOA-I","t":3482.125,"A":54.3,"err":4.5,"res":2.6},
   {"src":"MOA-I","t":3482.135,"A":50.0,"err":1.4,"res":-1.0},
   {"src":"MOA-I","t":3482.145,"A":51.5,"err":1.4,"res":0.8},
   {"src":"MOA-I","t":3482.155,"A":49.1,"err":1.4,"res":-0.9},
   {"src":"MOA-I","t":3482.165,"A":50.6,"err":1.5,"res":1.1},
   {"src":"MOA-I","t":3482.175,"A":48.0,"err":1.4,"res":-0.9},
   {"src":"MOA-I","t":3482.185,"A":49.2,"err":1.4,"res":0.9},
   {"src":"MOA-I","t":3482.195,"A":46.9,"err":1.4,"res":-0.8},
   {"src":"MOA-I","t":3482.205,"A":47.9,"err":1.5,"res":0.8},
   {"src":"MOA-I","t":3482.215,"A":45.4,"err":1.4,"res":-1.1},
   {"src":"MOA-I","t":3482.225,"A":46.5,"err":1.4,"res":0.5},
   {"src":"MOA-I","t":3482.235,"A":44.6,"err":1.5,"res":-0.7},
   {"src":"MOA-I","t":3482.245,"A":45.5,"err":1.5,"res":0.8},
   {"src":"MOA-I","t":3482.255,"A":43.2,"err":1.5,"res":-0.9},
   {"src":"MOA-I","t":3482.265,"A":44.3,"err":1.6,"res":0.8},
   {"src":"MOA-I","t":3482.275,"A":42.0,"err":1.5,"res":-0.8},
   {"src":"MOA-I","t":3482.285,"A":42.9,"err":1.6,"res":0.6},
   {"src":"OGLE-I","t":3450.9,"A":2.4,"err":0.1,"res":0},
   {"src":"OGLE-I","t":3454.8,"A":3.15,"err":0.1,"res":0},
   {"src":"OGLE-I","t":3456.8,"A":3.1,"err":0.1,"res":0},
   {"src":"OGLE-I","t":3467.7,"A":5.4,"err":0.1,"res":0},
   {"src":"OGLE-I","t":3469.9,"A":6.3,"err":0.1,"res":0},
   {"src":"OGLE-I","t":3471.8,"A":7.9,"err":0.1,"res":0},
   {"src":"OGLE-I","t":3473.95,"A":10.05,"err":0.1,"res":0},
   {"src":"OGLE-I","t":3477.9,"A":23.9,"err":0.15,"res":0},
   {"src":"OGLE-I","t":3483.64,"A":21.2,"err":0.15,"res":0},
   {"src":"OGLE-I","t":3483.85,"A":20.1,"err":0.15,"res":0},
   {"src":"OGLE-I","t":3484.66,"A":16.4,"err":0.15,"res":0},
   {"src":"OGLE-I","t":3486.7,"A":11.1,"err":0.1,"res":0},
   {"src":"OGLE-I","t":3487.75,"A":8.8,"err":0.1,"res":0},
   {"src":"OGLE-I","t":3489.8,"A":7.25,"err":0.1,"res":0},
   {"src":"OGLE-I","t":3490.8,"A":6.7,"err":0.1,"res":0},
   {"src":"OGLE-I","t":3491.9,"A":5.9,"err":0.1,"res":0},
   {"src":"OGLE-I","t":3492.8,"A":5.4,"err":0.1,"res":0},
   {"src":"OGLE-I","t":3496.7,"A":4.1,"err":0.1,"res":0},
   {"src":"OGLE-I","t":3496.9,"A":4.2,"err":0.1,"res":0},
   {"src":"OGLE-I","t":3497.7,"A":3.9,"err":0.1,"res":0},
   {"src":"OGLE-I","t":3498.9,"A":3.8,"err":0.1,"res":0},
   {"src":"OGLE-I","t":3499.75,"A":3.65,"err":0.1,"res":0},
   {"src":"OGLE-I","t":3500.9,"A":3.25,"err":0.1,"res":0},
   {"src":"OGLE-I","t":3501.75,"A":3.2,"err":0.1,"res":0},
   {"src":"OGLE-I","t":3502.8,"A":3.05,"err":0.1,"res":0},
   {"src":"OGLE-I","t":3503.0,"A":3.05,"err":0.1,"res":0},
   {"src":"OGLE-I","t":3503.75,"A":2.95,"err":0.1,"res":0},
   {"src":"OGLE-I","t":3504.7,"A":2.85,"err":0.1,"res":0},
   {"src":"OGLE-I","t":3506.8,"A":2.5,"err":0.1,"res":0},
   {"src":"OGLE-I","t":3508.75,"A":2.45,"err":0.1,"res":0},
   {"src":"OGLE-I","t":3509.7,"A":2.35,"err":0.1,"res":0},
   {"src":"OGLE-I","t":3510.8,"A":2.35,"err":0.1,"res":0},
   {"src":"OGLE-I","t":3511.7,"A":2.3,"err":0.1,"res":0},
   {"src":"OGLE-I","t":3478.71,"A":37.0,"err":0.2,"res":0.0},
   {"src":"OGLE-I","t":3478.75,"A":38.0,"err":0.2,"res":0.05},
   {"src":"OGLE-I","t":3478.805,"A":39.5,"err":0.2,"res":-0.3},
   {"src":"OGLE-I","t":3478.855,"A":41.3,"err":0.2,"res":0.1},
   {"src":"OGLE-I","t":3478.885,"A":43.0,"err":0.2,"res":0.5},
   {"src":"OGLE-I","t":3479.73,"A":26.5,"err":0.15,"res":0.1},
   {"src":"OGLE-I","t":3479.75,"A":26.2,"err":0.15,"res":-0.15},
   {"src":"OGLE-I","t":3479.79,"A":26.6,"err":0.15,"res":0.25},
   {"src":"OGLE-I","t":3479.83,"A":26.3,"err":0.15,"res":-0.05},
   {"src":"OGLE-I","t":3479.88,"A":26.4,"err":0.15,"res":-0.05},
   {"src":"OGLE-I","t":3479.93,"A":26.7,"err":0.15,"res":0.1},
   {"src":"OGLE-I","t":3480.69,"A":28.25,"err":0.15,"res":-0.25},
   {"src":"OGLE-I","t":3480.72,"A":28.5,"err":0.15,"res":0.0},
   {"src":"OGLE-I","t":3480.75,"A":28.4,"err":0.15,"res":-0.1},
   {"src":"OGLE-I","t":3480.81,"A":28.6,"err":0.15,"res":0.1},
   {"src":"OGLE-I","t":3480.85,"A":28.1,"err":0.15,"res":-0.35},
   {"src":"OGLE-I","t":3480.88,"A":28.1,"err":0.15,"res":-0.3},
   {"src":"OGLE-I","t":3480.93,"A":28.5,"err":0.15,"res":0.3},
   {"src":"OGLE-I","t":3481.68,"A":30.6,"err":0.2,"res":-0.1},
   {"src":"OGLE-I","t":3481.73,"A":32.2,"err":0.2,"res":-0.1},
   {"src":"OGLE-I","t":3481.76,"A":33.5,"err":0.2,"res":-0.3},
   {"src":"OGLE-I","t":3481.79,"A":34.9,"err":0.2,"res":-0.3},
   {"src":"OGLE-I","t":3481.80,"A":36.25,"err":0.2,"res":0.25},
   {"src":"OGLE-I","t":3481.83,"A":38.4,"err":0.2,"res":-0.1},
   {"src":"OGLE-I","t":3481.84,"A":39.9,"err":0.2,"res":0.2},
   {"src":"OGLE-I","t":3481.86,"A":41.7,"err":0.2,"res":0.1},
   {"src":"OGLE-I","t":3481.88,"A":43.2,"err":0.2,"res":-0.3},
   {"src":"OGLE-I","t":3481.90,"A":46.2,"err":0.3,"res":0.2},
   {"src":"OGLE-I","t":3481.905,"A":47.4,"err":0.3,"res":0.4},
   {"src":"OGLE-I","t":3481.91,"A":48.5,"err":0.3,"res":0.3},
   {"src":"OGLE-I","t":3481.925,"A":50.7,"err":0.3,"res":0.2},
   {"src":"OGLE-I","t":3481.935,"A":51.9,"err":0.3,"res":-0.1},
   {"src":"OGLE-I","t":3481.94,"A":52.5,"err":0.3,"res":-0.1},
   {"src":"OGLE-I","t":3481.945,"A":53.2,"err":0.3,"res":0.4},
   {"src":"OGLE-I","t":3482.67,"A":32.2,"err":0.2,"res":0.1},
   {"src":"OGLE-I","t":3482.68,"A":32.0,"err":0.2,"res":0.0},
   {"src":"OGLE-I","t":3482.72,"A":31.3,"err":0.2,"res":-0.1},
   {"src":"OGLE-I","t":3482.82,"A":29.3,"err":0.2,"res":-0.2},
   {"src":"OGLE-I","t":3482.83,"A":29.4,"err":0.2,"res":-0.1},
   {"src":"OGLE-I","t":3482.91,"A":28.2,"err":0.2,"res":-0.1},
   {"src":"OGLE-I","t":3482.92,"A":28.0,"err":0.2,"res":-0.2}
  ]
 },
 "vconcat": [
  {
   "width": 965, "height": 400,
   "resolve": {"axis": {"x": "independent", "y": "independent"}},
   "layer": [
    {
     "data": {"name": "single"},
     "mark": {"type": "line", "color": "#c8c8c8", "strokeWidth": 2.5, "clip": true},
     "encoding": {
      "x": {"field": "t", "type": "quantitative", "scale": {"domain": [3450, 3512], "nice": false, "zero": false},
       "axis": {"orient": "bottom", "title": null, "format": "d", "values": [3460, 3480, 3500], "tickSize": -22, "labelPadding": 63, "labelBaseline": "alphabetic"}},
      "y": {"field": "A", "type": "quantitative", "scale": {"domain": [0, 63], "nice": false, "zero": false},
       "axis": {"orient": "left", "title": "magnification", "format": "d", "values": [0, 20, 40, 60], "tickSize": -22, "labelPadding": 43,
        "titleX": -89, "titleY": 200, "titleAngle": -90, "titleAlign": "center", "titleBaseline": "alphabetic"}}
     }
    },
    {
     "data": {"name": "model"},
     "mark": {"type": "line", "color": "#555555", "strokeWidth": 2, "clip": true},
     "encoding": {
      "x": {"field": "t", "type": "quantitative",
       "axis": {"orient": "bottom", "title": null, "labels": false, "values": [3455,3465,3470,3475,3485,3490,3495,3505,3510], "tickSize": -11}},
      "y": {"field": "A", "type": "quantitative",
       "axis": {"orient": "left", "title": null, "labels": false, "values": [5,10,15,25,30,35,45,50,55], "tickSize": -11}}
     }
    },
    {
     "data": {"values": [{}]},
     "mark": {"type": "rect", "filled": false, "color": "#ff8c00", "strokeWidth": 2},
     "encoding": {
      "x": {"datum": 3478.2, "type": "quantitative", "axis": null},
      "x2": {"datum": 3483},
      "y": {"datum": 22, "type": "quantitative", "axis": null},
      "y2": {"datum": 61.5}
     }
    },
    {
     "data": {"name": "obs"},
     "mark": {"type": "errorbar", "ticks": {"size": 6, "thickness": 1.5}, "thickness": 1.5, "clip": true},
     "encoding": {
      "x": {"field": "t", "type": "quantitative", "axis": null},
      "y": {"field": "A", "type": "quantitative", "axis": null},
      "yError": {"field": "err"},
      "color": {"field": "src", "type": "nominal"}
     }
    },
    {
     "data": {"name": "obs"},
     "mark": {"type": "point", "filled": true, "opacity": 1, "clip": true},
     "encoding": {
      "x": {"field": "t", "type": "quantitative",
       "axis": {"orient": "top", "title": null, "labels": false, "values": [3460, 3480, 3500], "tickSize": -22}},
      "y": {"field": "A", "type": "quantitative",
       "axis": {"orient": "right", "title": null, "labels": false, "values": [0, 20, 40, 60], "tickSize": -22}},
      "size": {"condition": {"test": "datum.src === 'OGLE-I'", "value": 60}, "value": 30},
      "color": {"field": "src", "type": "nominal",
       "scale": {"domain": ["MOA-I", "OGLE-I", "Farm Cove-UF", "Auckland-UF", "CTIO-I", "Canopus-I", "FTN-I"],
                 "range": ["#ff0000", "#000000", "#00ff00", "#0000ff", "#ff00ff", "#ffd700", "#00ffff"]},
       "legend": {"orient": "none", "legendX": 22, "legendY": 25, "title": null, "symbolSize": 1, "symbolOpacity": 0, "symbolStrokeWidth": 0,
        "labelFont": "Liberation Mono", "labelFontSize": 33, "labelOffset": 0, "labelLimit": 500, "rowPadding": 3, "padding": 0,
        "encode": {"labels": {"update": {"fill": {"scale": "color", "field": "value"}}}}}}
     }
    },
    {
     "data": {"name": "model"},
     "mark": {"type": "point", "opacity": 0, "clip": true},
     "encoding": {
      "x": {"field": "t", "type": "quantitative",
       "axis": {"orient": "top", "title": null, "labels": false, "values": [3455,3465,3470,3475,3485,3490,3495,3505,3510], "tickSize": -11}},
      "y": {"field": "A", "type": "quantitative",
       "axis": {"orient": "right", "title": null, "labels": false, "values": [5,10,15,25,30,35,45,50,55], "tickSize": -11}}
     }
    }
   ]
  },
  {
   "spacing": 0,
   "bounds": "flush",
   "vconcat": [
    {
     "width": 965, "height": 400,
     "resolve": {"axis": {"x": "independent", "y": "independent"}},
     "layer": [
      {
       "data": {"name": "single"},
       "transform": [{"filter": "datum.t >= 3478 && datum.t <= 3483.5"}],
       "mark": {"type": "line", "color": "#c8c8c8", "strokeWidth": 2.5, "strokeDash": [24, 12], "clip": true},
       "encoding": {
        "x": {"field": "t", "type": "quantitative", "scale": {"domain": [3478.2, 3483], "nice": false, "zero": false},
         "axis": {"orient": "bottom", "title": null, "labels": false, "values": [3479, 3480, 3481, 3482], "tickSize": -22}},
        "y": {"field": "A", "type": "quantitative", "scale": {"domain": [22, 61.5], "nice": false, "zero": false},
         "axis": {"orient": "left", "title": "magnification", "format": "d", "values": [30, 40, 50, 60], "tickSize": -22, "labelPadding": 43,
          "titleX": -89, "titleY": 200, "titleAngle": -90, "titleAlign": "center", "titleBaseline": "alphabetic"}}
       }
      },
      {
       "data": {"name": "model"},
       "transform": [{"filter": "datum.t >= 3478.1 && datum.t <= 3483.1"}],
       "mark": {"type": "line", "color": "#555555", "strokeWidth": 2, "clip": true},
       "encoding": {
        "x": {"field": "t", "type": "quantitative",
         "axis": {"orient": "bottom", "title": null, "labels": false, "values": [3478.4,3478.6,3478.8,3479.2,3479.4,3479.6,3479.8,3480.2,3480.4,3480.6,3480.8,3481.2,3481.4,3481.6,3481.8,3482.2,3482.4,3482.6,3482.8], "tickSize": -11}},
        "y": {"field": "A", "type": "quantitative",
         "axis": {"orient": "left", "title": null, "labels": false, "values": [24,26,28,32,34,36,38,42,44,46,48,52,54,56,58], "tickSize": -11}}
       }
      },
      {
       "data": {"name": "obs"},
       "transform": [{"filter": "datum.t >= 3478.2 && datum.t <= 3483"}],
       "mark": {"type": "errorbar", "ticks": {"size": 7, "thickness": 2}, "thickness": 2, "clip": true},
       "encoding": {
        "x": {"field": "t", "type": "quantitative", "axis": null},
        "y": {"field": "A", "type": "quantitative", "axis": null},
        "yError": {"field": "err"},
        "color": {"field": "src", "type": "nominal"}
       }
      },
      {
       "data": {"name": "obs"},
       "transform": [{"filter": "datum.t >= 3478.2 && datum.t <= 3483"}],
       "mark": {"type": "point", "filled": true, "opacity": 1, "clip": true},
       "encoding": {
        "x": {"field": "t", "type": "quantitative",
         "axis": {"orient": "top", "title": null, "labels": false, "values": [3479, 3480, 3481, 3482], "tickSize": -22}},
        "y": {"field": "A", "type": "quantitative",
         "axis": {"orient": "right", "title": null, "labels": false, "values": [30, 40, 50, 60], "tickSize": -22}},
        "shape": {"condition": {"test": "datum.src === 'OGLE-I'", "value": "square"}, "value": "circle"},
        "size": {"condition": {"test": "datum.src === 'OGLE-I'", "value": 55}, "value": 40},
        "color": {"field": "src", "type": "nominal"}
       }
      },
      {
       "data": {"name": "model"},
       "transform": [{"filter": "datum.t >= 3478.2 && datum.t <= 3483"}],
       "mark": {"type": "point", "opacity": 0, "clip": true},
       "encoding": {
        "x": {"field": "t", "type": "quantitative",
         "axis": {"orient": "top", "title": null, "labels": false, "values": [3478.4,3478.6,3478.8,3479.2,3479.4,3479.6,3479.8,3480.2,3480.4,3480.6,3480.8,3481.2,3481.4,3481.6,3481.8,3482.2,3482.4,3482.6,3482.8], "tickSize": -11}},
        "y": {"field": "A", "type": "quantitative",
         "axis": {"orient": "right", "title": null, "labels": false, "values": [24,26,28,32,34,36,38,42,44,46,48,52,54,56,58], "tickSize": -11}}
       }
      },
      {
       "data": {"values": [{}]},
       "mark": {"type": "text", "text": "planetary signal", "font": "Liberation Mono", "fontSize": 31, "align": "left", "baseline": "alphabetic", "color": "black"},
       "encoding": {
        "x": {"datum": 3478.5, "type": "quantitative", "axis": null},
        "y": {"datum": 53.5, "type": "quantitative", "axis": null}
       }
      }
     ]
    },
    {
     "width": 965, "height": 109,
     "resolve": {"axis": {"x": "independent", "y": "independent"}},
     "layer": [
      {
       "data": {"values": [{}]},
       "mark": {"type": "rule", "color": "#222222", "strokeWidth": 2},
       "encoding": {"y": {"datum": 0, "type": "quantitative", "axis": null}}
      },
      {
       "data": {"name": "obs"},
       "transform": [{"filter": "datum.t >= 3478.2 && datum.t <= 3483"}],
       "mark": {"type": "errorbar", "ticks": {"size": 7, "thickness": 2}, "thickness": 2, "clip": true},
       "encoding": {
        "x": {"field": "t", "type": "quantitative", "axis": null},
        "y": {"field": "res", "type": "quantitative", "axis": null},
        "yError": {"field": "err"},
        "color": {"field": "src", "type": "nominal"}
       }
      },
      {
       "data": {"name": "obs"},
       "transform": [{"filter": "datum.t >= 3478.2 && datum.t <= 3483"}],
       "mark": {"type": "point", "filled": true, "opacity": 1, "clip": true},
       "encoding": {
        "x": {"field": "t", "type": "quantitative", "scale": {"domain": [3478.2, 3483], "nice": false, "zero": false},
         "axis": {"orient": "bottom", "title": "HJD - 2450000", "format": "d", "values": [3479, 3480, 3481, 3482, 3483], "tickSize": -22,
          "labelPadding": 63, "labelBaseline": "alphabetic", "titleFontSize": 34, "titleX": 482, "titleY": 77, "titleBaseline": "alphabetic", "titleAlign": "center"}},
        "y": {"field": "res", "type": "quantitative", "scale": {"domain": [-3.8, 3.75], "nice": false, "zero": false},
         "axis": {"orient": "left", "title": "residual", "format": "d", "values": [-2, 0, 2], "tickSize": -22,
          "labelPadding": 44, "labelAngle": 270, "labelAlign": "center", "labelBaseline": "alphabetic", "labelFontSize": 28,
          "titleX": -87, "titleY": 54.5, "titleAngle": -90, "titleAlign": "center", "titleBaseline": "alphabetic"}},
        "shape": {"condition": {"test": "datum.src === 'OGLE-I'", "value": "square"}, "value": "circle"},
        "size": {"condition": {"test": "datum.src === 'OGLE-I'", "value": 50}, "value": 36},
        "color": {"field": "src", "type": "nominal"}
       }
      },
      {
       "data": {"name": "obs"},
       "transform": [{"filter": "datum.t >= 3478.2 && datum.t <= 3483"}],
       "mark": {"type": "point", "opacity": 0, "clip": true},
       "encoding": {
        "x": {"field": "t", "type": "quantitative",
         "axis": {"orient": "bottom", "title": null, "labels": false, "values": [3478.4,3478.6,3478.8,3479.2,3479.4,3479.6,3479.8,3480.2,3480.4,3480.6,3480.8,3481.2,3481.4,3481.6,3481.8,3482.2,3482.4,3482.6,3482.8], "tickSize": -11}},
        "y": {"field": "res", "type": "quantitative",
         "axis": {"orient": "left", "title": null, "labels": false, "values": [-3.5,-3,-2.5,-1.5,-1,-0.5,0.5,1,1.5,2.5,3,3.5], "tickSize": -11}}
       }
      },
      {
       "data": {"name": "obs"},
       "transform": [{"filter": "datum.t >= 3478.2 && datum.t <= 3483"}],
       "mark": {"type": "point", "opacity": 0, "clip": true},
       "encoding": {
        "x": {"field": "t", "type": "quantitative",
         "axis": {"orient": "top", "title": null, "labels": false, "values": [3479, 3480, 3481, 3482], "tickSize": -22}},
        "y": {"field": "res", "type": "quantitative",
         "axis": {"orient": "right", "title": null, "labels": false, "values": [-2, 0, 2], "tickSize": -22}}
       }
      },
      {
       "data": {"name": "obs"},
       "transform": [{"filter": "datum.t >= 3478.2 && datum.t <= 3483"}],
       "mark": {"type": "point", "opacity": 0, "clip": true},
       "encoding": {
        "x": {"field": "t", "type": "quantitative",
         "axis": {"orient": "top", "title": null, "labels": false, "values": [3478.4,3478.6,3478.8,3479.2,3479.4,3479.6,3479.8,3480.2,3480.4,3480.6,3480.8,3481.2,3481.4,3481.6,3481.8,3482.2,3482.4,3482.6,3482.8], "tickSize": -11}},
        "y": {"field": "res", "type": "quantitative",
         "axis": {"orient": "right", "title": null, "labels": false, "values": [-3.5,-3,-2.5,-1.5,-1,-0.5,0.5,1,1.5,2.5,3,3.5], "tickSize": -11}}
       }
      }
     ]
    }
   ]
  }
 ]
}
